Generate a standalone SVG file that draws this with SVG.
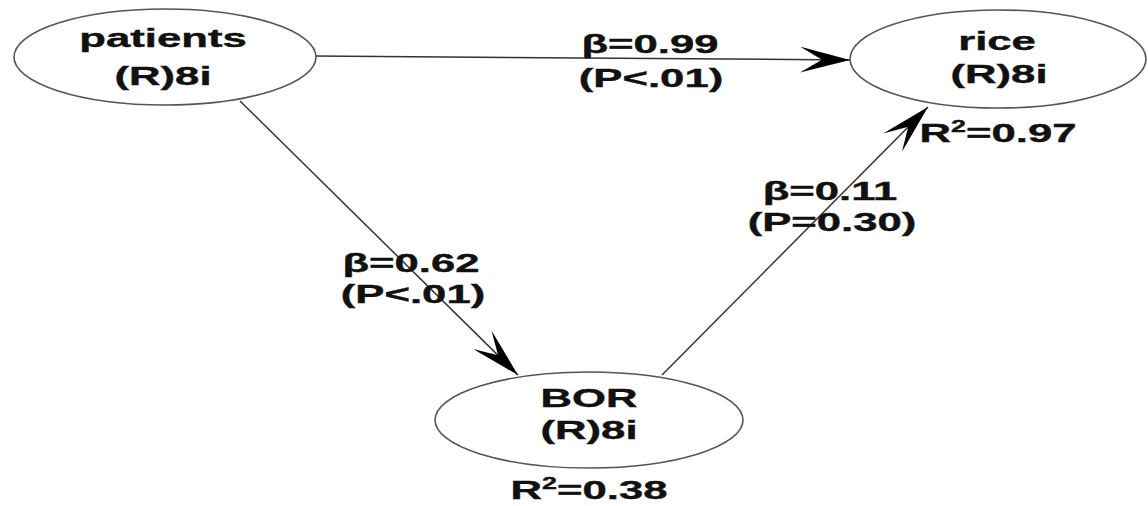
<svg xmlns="http://www.w3.org/2000/svg" width="1148" height="506" viewBox="0 0 1148 506">
<style>
.node{fill:#fff;stroke:#555;stroke-width:1.6}
.t{font-family:"Liberation Sans",Arial,sans-serif;font-weight:bold;font-size:26px;fill:#111;stroke:#111;stroke-width:0.4;text-anchor:middle}
.edge{stroke:#333;stroke-width:1.5;fill:none}
</style>
<defs>
<marker id="arr" viewBox="0 0 50 26" markerWidth="50" markerHeight="26" refX="50" refY="13" orient="auto" markerUnits="userSpaceOnUse">
<path d="M0,0 L50,13 L0,26 L22,13 z" fill="#000"/>
</marker>
</defs>
<rect width="1148" height="506" fill="#fff"/>
<g id="connectors">
<line class="edge" x1="315" y1="56" x2="850" y2="60" marker-end="url(#arr)"/>
<line class="edge" x1="240" y1="101" x2="518" y2="375" marker-end="url(#arr)"/>
<line class="edge" x1="662" y1="375" x2="928" y2="107" marker-end="url(#arr)"/>
<text class="t" transform="translate(650 53) scale(1.68 1)">β=0.99</text>
<text class="t" transform="translate(651 87) scale(1.68 1)">(P&lt;.01)</text>
<text class="t" transform="translate(411 272) scale(1.68 1)">β=0.62</text>
<text class="t" transform="translate(413 303) scale(1.68 1)">(P&lt;.01)</text>
<text class="t" transform="translate(830 200) scale(1.68 1)">β=0.11</text>
<text class="t" transform="translate(832 231) scale(1.68 1)">(P=0.30)</text>
</g>
<g id="patients">
<ellipse class="node" cx="165" cy="57" rx="151" ry="48"/>
<text class="t" transform="translate(163 47) scale(1.68 1)">patients</text>
<text class="t" transform="translate(163 85) scale(1.68 1)">(R)8i</text>
</g>
<g id="rice">
<ellipse class="node" cx="998" cy="59" rx="148" ry="49"/>
<text class="t" transform="translate(997 50) scale(1.68 1)">rice</text>
<text class="t" transform="translate(999 83) scale(1.68 1)">(R)8i</text>
<text class="t" transform="translate(998 142) scale(1.68 1)">R<tspan font-size="16" dy="-10">2</tspan><tspan dy="10">=0.97</tspan></text>
</g>
<g id="BOR">
<ellipse class="node" cx="589" cy="420" rx="154" ry="48"/>
<text class="t" transform="translate(589 407) scale(1.68 1)">BOR</text>
<text class="t" transform="translate(589 439) scale(1.68 1)">(R)8i</text>
<text class="t" transform="translate(589 499) scale(1.68 1)">R<tspan font-size="16" dy="-10">2</tspan><tspan dy="10">=0.38</tspan></text>
</g>
</svg>
